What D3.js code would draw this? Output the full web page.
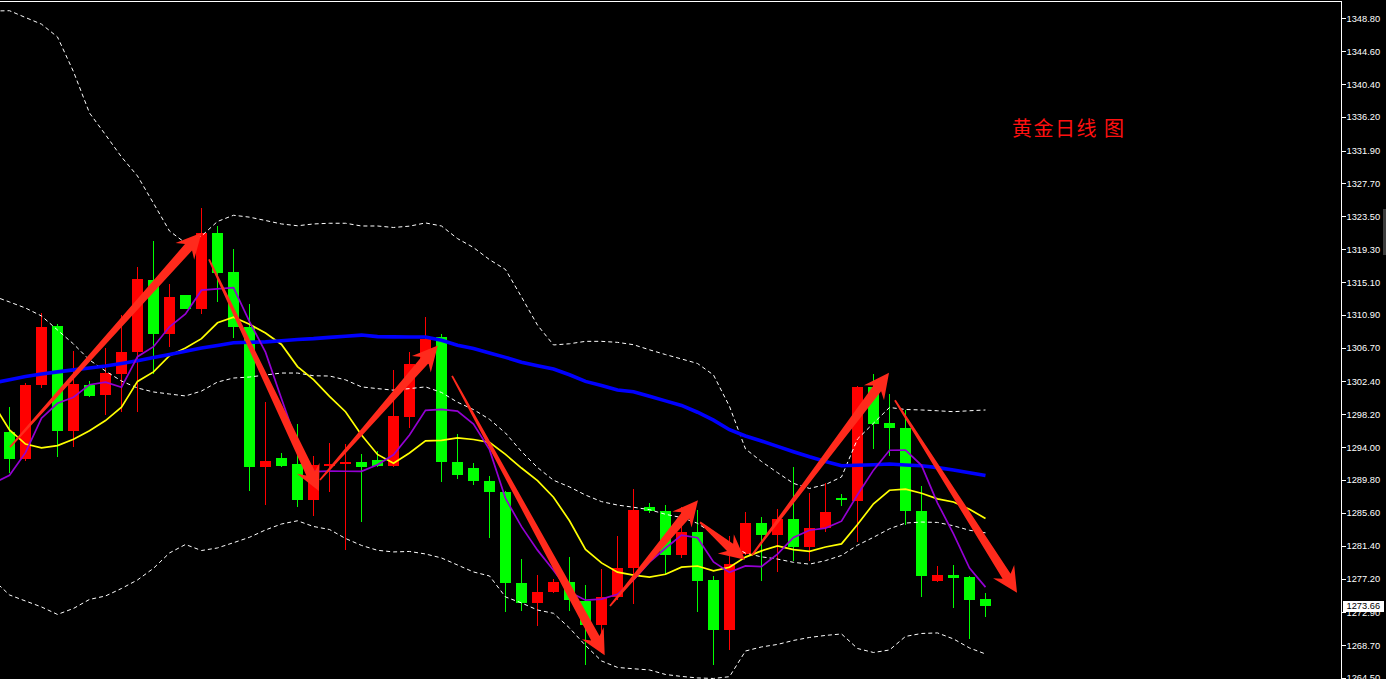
<!DOCTYPE html>
<html>
<head>
<meta charset="utf-8">
<script src="https://cdn.jsdelivr.net/npm/d3@7"></script>
<style>
  html, body { margin: 0; padding: 0; background: #000; overflow: hidden; }
  svg { display: block; }
</style>
</head>
<body>
<script>
// ---------- DATA ----------
const open  = [1295.9,1292.5,1301.9,1309.5,1296.0,1301.9,1300.6,1303.4,1306.1,1315.4,1308.5,1313.4,1311.6,1321.4,1316.4,1309.4,1291.5,1292.6,1291.9,1287.3,1291.6,1291.8,1292.1,1292.4,1291.6,1297.9,1304.6,1308.1,1292.1,1291.3,1289.7,1288.3,1276.6,1274.1,1275.5,1276.8,1274.4,1271.3,1274.8,1278.5,1286.3,1285.9,1280.2,1283.2,1277.0,1270.6,1280.4,1284.3,1282.8,1284.8,1281.3,1283.7,1287.5,1287.1,1301.7,1297.1,1296.4,1285.8,1276.9,1277.6,1277.4,1274.6];
const high  = [1299.1,1302.2,1311.2,1309.7,1306.3,1302.4,1306.7,1310.9,1317.0,1320.3,1314.9,1313.5,1324.5,1322.2,1319.3,1312.3,1299.8,1293.3,1297.0,1292.9,1294.5,1294.4,1293.1,1293.5,1303.8,1306.1,1310.6,1308.4,1295.7,1292.0,1290.3,1288.4,1279.7,1277.7,1277.2,1279.9,1276.4,1278.4,1282.6,1288.7,1286.9,1286.6,1286.3,1286.0,1277.5,1282.6,1285.7,1285.1,1286.1,1291.5,1288.2,1289.4,1288.0,1301.8,1303.4,1300.8,1298.8,1289.0,1278.8,1278.9,1277.5,1275.3];
const low   = [1290.7,1292.2,1301.6,1292.8,1294.0,1300.4,1298.1,1298.5,1298.5,1303.4,1306.8,1311.6,1311.0,1312.6,1308.0,1288.4,1286.6,1291.4,1286.4,1285.2,1288.3,1280.9,1284.4,1291.5,1291.5,1296.5,1304.4,1289.6,1289.9,1289.2,1282.4,1272.9,1273.0,1271.1,1275.3,1273.0,1266.2,1267.7,1274.5,1274.0,1285.6,1277.8,1279.8,1272.9,1266.2,1268.1,1280.2,1276.9,1278.1,1279.4,1279.5,1283.1,1286.5,1281.9,1293.7,1292.9,1284.0,1274.8,1276.8,1273.5,1269.5,1272.3];
const close = [1292.5,1301.9,1309.4,1296.0,1302.1,1300.5,1303.5,1306.2,1315.5,1308.5,1313.2,1311.7,1321.4,1316.3,1309.3,1291.5,1292.2,1291.6,1287.3,1291.7,1291.9,1292.1,1291.5,1291.6,1298.0,1304.6,1307.8,1292.1,1290.5,1289.7,1288.3,1276.6,1274.1,1275.5,1276.8,1274.5,1271.3,1274.8,1278.6,1286.0,1285.8,1280.2,1283.2,1276.9,1270.6,1279.1,1284.3,1282.8,1284.8,1281.3,1283.7,1285.7,1287.2,1301.7,1297.0,1296.4,1285.8,1277.5,1277.6,1277.3,1274.5,1273.66];

// indicator lines: first value belongs to the bar just before the visible window (index -1)
const ma5   = [1289.4,1290.4,1293.3,1297.7,1299.6,1300.38,1301.98,1302.30,1301.66,1305.56,1306.84,1309.38,1311.02,1314.06,1314.22,1314.38,1310.04,1306.14,1300.18,1294.38,1290.86,1290.94,1290.92,1290.90,1291.76,1293.02,1295.56,1298.70,1298.82,1298.60,1296.94,1293.68,1287.44,1283.84,1280.84,1278.26,1275.50,1274.44,1274.58,1275.20,1277.04,1279.30,1281.08,1282.76,1282.42,1279.34,1278.00,1278.82,1278.74,1280.32,1282.46,1283.38,1283.66,1284.54,1287.92,1291.06,1293.60,1293.62,1291.68,1286.86,1282.92,1278.54,1276.11];
const ma10  = [1299.5,1296.2,1294.4,1293.9,1294.2,1295.0,1296.1,1297.4,1299.1,1302.4,1303.61,1305.68,1306.66,1307.86,1309.89,1310.61,1309.71,1308.58,1307.12,1304.30,1302.62,1300.49,1298.53,1295.54,1293.07,1291.94,1293.25,1294.81,1294.86,1295.18,1294.98,1294.62,1293.07,1291.33,1289.72,1287.60,1284.59,1280.94,1279.21,1278.02,1277.65,1277.40,1277.76,1278.67,1278.81,1278.19,1278.65,1279.95,1280.75,1281.37,1280.90,1280.69,1281.24,1281.64,1284.12,1286.76,1288.49,1288.64,1288.11,1287.39,1286.99,1286.07,1284.87];
const ma60  = [1302.20,1302.61,1303.02,1303.35,1303.62,1303.87,1304.12,1304.37,1304.69,1305.04,1305.45,1305.84,1306.25,1306.66,1307.00,1307.35,1307.40,1307.45,1307.59,1307.76,1307.87,1308.03,1308.17,1308.32,1308.12,1308.09,1308.08,1308.08,1307.66,1307.03,1306.61,1306.03,1305.47,1304.86,1304.40,1303.98,1303.25,1302.40,1301.87,1301.31,1301.09,1300.51,1299.91,1299.33,1298.46,1297.45,1296.23,1295.43,1294.79,1294.10,1293.42,1292.77,1292.17,1291.63,1291.68,1291.76,1291.84,1291.72,1291.63,1291.38,1291.08,1290.73,1290.38];
const bbUpper = [1349.73,1349.77,1348.90,1348.05,1346.41,1341.98,1336.70,1333.92,1331.08,1328.65,1325.16,1321.62,1320.09,1320.98,1322.84,1323.63,1323.39,1322.96,1322.52,1322.29,1322.52,1322.61,1322.61,1322.26,1322.26,1322.07,1322.24,1322.65,1322.26,1320.65,1319.51,1317.96,1316.70,1313.19,1309.59,1307.06,1307.21,1307.52,1307.52,1307.39,1307.09,1306.44,1305.83,1305.27,1304.69,1303.22,1299.20,1293.77,1292.16,1290.74,1289.37,1288.72,1289.22,1290.19,1295.04,1297.06,1299.07,1298.81,1298.75,1298.65,1298.53,1298.65,1298.75];
const bbMid   = [1313.3,1312.55,1311.78,1310.76,1308.97,1307.18,1305.14,1303.73,1302.45,1301.56,1301.05,1300.79,1300.54,1301.17,1302.32,1302.83,1302.96,1303.22,1303.47,1303.47,1303.12,1303.09,1302.60,1301.70,1301.48,1301.28,1301.48,1301.70,1300.99,1299.74,1298.80,1297.56,1295.80,1293.44,1291.40,1289.77,1288.92,1287.88,1287.04,1286.60,1286.32,1286.01,1285.42,1285.00,1284.27,1282.90,1281.62,1280.45,1279.98,1279.70,1279.28,1279.05,1279.50,1280.16,1281.47,1282.48,1283.57,1284.30,1284.43,1284.38,1283.95,1283.38,1283.05];
const bbLower = [1277.03,1275.11,1274.34,1273.58,1272.62,1273.39,1274.54,1274.98,1275.94,1277.03,1278.52,1280.48,1281.56,1280.79,1281.12,1281.79,1282.48,1283.42,1284.18,1284.59,1283.86,1283.48,1282.33,1281.44,1280.82,1280.61,1280.67,1280.35,1279.84,1278.94,1278.05,1277.54,1274.86,1274.09,1273.19,1272.77,1270.89,1268.66,1266.68,1265.85,1265.68,1265.53,1264.95,1264.70,1264.51,1264.44,1264.67,1267.95,1268.47,1268.79,1269.30,1269.68,1269.94,1270.13,1268.27,1267.76,1268.08,1269.81,1270.19,1270.26,1269.49,1268.34,1267.57];

const tickValues = [1348.8,1344.6,1340.4,1336.2,1331.9,1327.7,1323.5,1319.3,1315.1,1310.9,1306.7,1302.4,1298.2,1294.0,1289.8,1285.6,1281.4,1277.2,1272.9,1268.7,1264.5];
const lastPrice = 1273.66;
const title = "黄金日线 图";

// annotation arrows: [barFrom, priceFrom, barTo, priceTo]
const arrows = [
  [0.03, 1294.0, 12.0, 1321.4],
  [12.47, 1318.0, 19.34, 1288.4],
  [19.4, 1289.8, 26.77, 1307.0],
  [27.66, 1303.1, 37.2, 1267.4],
  [37.53, 1273.7, 43.03, 1287.2],
  [43.16, 1284.4, 45.97, 1279.6],
  [46.41, 1280.2, 54.97, 1303.5],
  [55.34, 1300.0, 62.97, 1275.4]
];

// ---------- CHART ----------
const W = 1386, H = 679, axisX = 1341.5;
const svg = d3.select("body").append("svg").attr("width", W).attr("height", H);
svg.append("rect").attr("width", W).attr("height", H).attr("fill", "#000");

const x = d3.scaleLinear().domain([0, open.length - 1]).range([9.5, 985.5]);
const y = d3.scaleLinear().domain([1264.5, 1348.8]).range([678, 18.3]);

svg.append("defs").append("clipPath").attr("id", "plot")
  .append("rect").attr("x", 0).attr("y", 2).attr("width", axisX - 0.5).attr("height", H - 2);

const plot = svg.append("g").attr("clip-path", "url(#plot)");

// candles
const bars = d3.range(open.length).map(i => ({i, o: open[i], h: high[i], l: low[i], c: close[i]}));
const cg = plot.append("g").attr("shape-rendering", "crispEdges");
const col = d => d.c > d.o ? "#ff0000" : "#00ff00";
cg.selectAll("line.wick").data(bars).join("line")
  .attr("x1", d => x(d.i)).attr("x2", d => x(d.i))
  .attr("y1", d => y(d.h)).attr("y2", d => y(d.l))
  .attr("stroke", col).attr("stroke-width", 1);
cg.selectAll("rect.body").data(bars).join("rect")
  .attr("x", d => x(d.i) - 5.5).attr("width", 11)
  .attr("y", d => Math.min(y(d.o), y(d.c)))
  .attr("height", d => Math.max(2, Math.abs(y(d.o) - y(d.c))))
  .attr("fill", col);

// indicator lines
const line = d3.line().x((d, k) => x(k - 1)).y(d => y(d));
const dashed = [bbUpper, bbMid, bbLower];
dashed.forEach(arr => {
  plot.append("path").attr("d", line(arr)).attr("fill", "none")
    .attr("stroke", "#ffffff").attr("stroke-width", 1).attr("stroke-dasharray", "4,3");
});
plot.append("path").attr("d", line(ma10)).attr("fill", "none").attr("stroke", "#ffff00").attr("stroke-width", 1.7);
plot.append("path").attr("d", line(ma60)).attr("fill", "none").attr("stroke", "#0000ff").attr("stroke-width", 3.6);
plot.append("path").attr("d", line(ma5)).attr("fill", "none").attr("stroke", "#9400d3").attr("stroke-width", 1.7);

// arrows
function arrowPoints(x1, y1, x2, y2) {
  const tw = 1.8, sw = 9.5, hw = 25, hl = 25;
  const dx = x2 - x1, dy = y2 - y1, L = Math.hypot(dx, dy);
  const ux = dx / L, uy = dy / L, nx = -uy, ny = ux;
  const bx = x1 + ux * (L - hl), by = y1 + uy * (L - hl);
  const kx = x1 + ux * (L - hl * 0.78), ky = y1 + uy * (L - hl * 0.78);
  return [
    [x1 + nx * tw / 2, y1 + ny * tw / 2],
    [kx + nx * sw / 2, ky + ny * sw / 2],
    [bx + nx * hw / 2, by + ny * hw / 2],
    [x2, y2],
    [bx - nx * hw / 2, by - ny * hw / 2],
    [kx - nx * sw / 2, ky - ny * sw / 2],
    [x1 - nx * tw / 2, y1 - ny * tw / 2]
  ];
}
plot.append("g").selectAll("polygon").data(arrows).join("polygon")
  .attr("points", a => arrowPoints(x(a[0]), y(a[1]), x(a[2]), y(a[3])).map(p => p.join(",")).join(" "))
  .attr("fill", "#ff2a1c");

// title
svg.append("text").attr("x", 1012).attr("y", 136)
  .attr("font-family", "'Noto Sans CJK SC', sans-serif").attr("font-size", 20)
  .attr("letter-spacing", 1.5).attr("fill", "#ff1010").text(title);

// frame
svg.append("line").attr("x1", 0).attr("x2", axisX).attr("y1", 1.5).attr("y2", 1.5)
  .attr("stroke", "#fff").attr("stroke-width", 1);
svg.append("line").attr("x1", axisX).attr("x2", axisX).attr("y1", 1).attr("y2", H)
  .attr("stroke", "#fff").attr("stroke-width", 1);

// right axis
const axis = d3.axisRight(y).tickValues(tickValues).tickSize(4).tickPadding(1)
  .tickFormat(d3.format(".2f"));
const ag = svg.append("g").attr("transform", `translate(${axisX},0)`).call(axis);
ag.select(".domain").remove();
ag.selectAll(".tick line").attr("stroke", "#fff").attr("shape-rendering", "crispEdges");
ag.selectAll(".tick text").attr("fill", "#fff")
  .attr("font-family", "'Liberation Sans', Arial, sans-serif").attr("font-size", 9.3);

// last price label
const lp = svg.append("g");
lp.append("rect").attr("x", 1343).attr("y", y(lastPrice) - 5.3).attr("width", 40.5).attr("height", 11)
  .attr("fill", "#fff").attr("shape-rendering", "crispEdges");
lp.append("text").attr("x", 1346.5).attr("y", y(lastPrice)).attr("dy", "0.34em")
  .attr("font-family", "'Liberation Sans', Arial, sans-serif").attr("font-size", 9.3)
  .attr("fill", "#000").text(d3.format(".2f")(lastPrice));

// small scroll marker on the right edge
svg.append("rect").attr("x", 1383).attr("y", 209).attr("width", 3).attr("height", 46)
  .attr("fill", "#3c3c3c").attr("shape-rendering", "crispEdges");
</script>
</body>
</html>
